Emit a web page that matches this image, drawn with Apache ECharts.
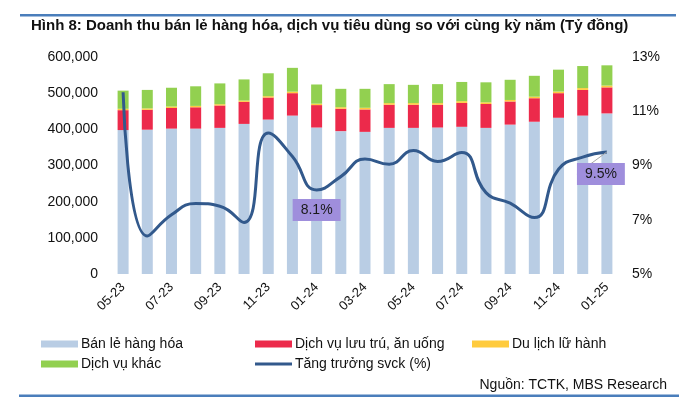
<!DOCTYPE html>
<html>
<head>
<meta charset="utf-8">
<script src="https://cdn.jsdelivr.net/npm/echarts@6/dist/echarts.min.js"></script>
<style>
html,body{margin:0;padding:0;background:#fff;}
#c{width:700px;height:412px;}
</style>
</head>
<body>
<div id="c"></div>
<script>
var categories = ['05-23','06-23','07-23','08-23','09-23','10-23','11-23','12-23','01-24','02-24','03-24','04-24','05-24','06-24','07-24','08-24','09-24','10-24','11-24','12-24','01-25'];
var banLe = [398000,399000,402000,402000,404000,415000,427000,438000,405000,395000,393000,404000,404000,405000,407000,404000,413000,421000,432000,438000,444000];
var luuTru = [55000,55000,57000,59000,62000,61000,61000,62000,62000,62000,62000,64000,64000,63000,66000,66000,64000,65000,68000,71000,72000];
var duLich = [3800,3900,4100,3800,3500,3600,3700,4200,4000,4200,4600,4500,4600,4600,4900,4700,4200,4300,4500,5100,5000];
var khac = [50200,51100,51900,54200,57500,58400,63300,65800,53000,50800,52400,52500,50400,52400,53100,55300,55800,57700,60500,60900,56000];
var tangTruong = [11.7,6.4,7.18,7.6,7.5,6.9,10.2,9.33,8.1,8.59,9.24,9.05,9.55,9.15,9.48,8.0,7.61,7.08,8.86,9.31,9.5];
var leftTicks = [0,100000,200000,300000,400000,500000,600000];
var rightTicks = [5,7,9,11,13];

var FONT = "'Liberation Sans', Arial, sans-serif";
var names = ['Bán lẻ hàng hóa','Dịch vụ lưu trú, ăn uống','Du lịch lữ hành','Dịch vụ khác','Tăng trưởng svck (%)'];
var colors = ['#b9cde4','#ec2a4b','#ffcb3d','#92d050','#32598c'];
var labelBox = {fontSize:14, fontFamily:FONT, color:'#1a1a1a', backgroundColor:'#9f8edc', padding:[4,8]};

var lineData = tangTruong.map(function(v,i){
  if (i === 8) {
    return {value:v, label:Object.assign({show:true, position:'bottom', distance:9, formatter:'8.1%'}, labelBox)};
  }
  if (i === tangTruong.length-1) {
    return {value:v, label:Object.assign({show:true, position:'bottom', distance:11, formatter:'9.5%'}, labelBox),
            labelLine:{show:true, lineStyle:{color:'#a6a6a6', width:1}}};
  }
  return v;
});

function legendAt(name, left, top, h) {
  return {show:true, data:[{name:name, icon:'rect'}], left:left, top:top, itemWidth:37, itemHeight:h||7,
    padding:0, itemGap:0, selectedMode:false,
    textStyle:{fontSize:14, fontFamily:FONT, color:'#111', lineHeight:14, padding:[0,0,0,-2]}};
}

var chart = echarts.init(document.getElementById('c'));
chart.setOption({
  animation:false,
  backgroundColor:'#fff',
  title:{text:'Hình 8: Doanh thu bán lẻ hàng hóa, dịch vụ tiêu dùng so với cùng kỳ năm (Tỷ đồng)', left:31, top:18, padding:0,
    textStyle:{fontSize:15, fontWeight:'bold', fontFamily:FONT, color:'#111'}},
  grid:{left:111, right:81, top:57, bottom:138, containLabel:false},
  legend:[
    legendAt(names[0], 41, 337),
    legendAt(names[1], 255, 337),
    legendAt(names[2], 472, 337),
    legendAt(names[3], 41, 357),
    legendAt(names[4], 255, 357, 3)
  ],
  xAxis:{type:'category', data:categories, boundaryGap:true,
    axisLine:{show:false}, axisTick:{show:false}, splitLine:{show:false},
    axisLabel:{interval:1, rotate:45, margin:11, fontSize:13, fontFamily:FONT, color:'#111'}},
  yAxis:[
    {type:'value', min:leftTicks[0], max:leftTicks[leftTicks.length-1], interval:leftTicks[1]-leftTicks[0],
      axisLine:{show:false}, axisTick:{show:false}, splitLine:{show:false},
      axisLabel:{margin:13, fontSize:14, fontFamily:FONT, color:'#111',
        formatter:function(v){return v.toLocaleString('en-US');}}},
    {type:'value', min:rightTicks[0], max:rightTicks[rightTicks.length-1], interval:1,
      axisLine:{show:false}, axisTick:{show:false}, splitLine:{show:false},
      axisLabel:{margin:13, fontSize:14, fontFamily:FONT, color:'#111',
        formatter:function(v){return rightTicks.indexOf(v) >= 0 ? v + '%' : '';}}}
  ],
  series:[
    {name:names[0], type:'bar', stack:'a', data:banLe, barWidth:11, itemStyle:{color:colors[0]}, emphasis:{disabled:true}},
    {name:names[1], type:'bar', stack:'a', data:luuTru, barWidth:11, itemStyle:{color:colors[1]}, emphasis:{disabled:true}},
    {name:names[2], type:'bar', stack:'a', data:duLich, barWidth:11, itemStyle:{color:colors[2]}, emphasis:{disabled:true}},
    {name:names[3], type:'bar', stack:'a', data:khac, barWidth:11, itemStyle:{color:colors[3]}, emphasis:{disabled:true}},
    {name:names[4], type:'line', yAxisIndex:1, data:lineData, smooth:0.5, symbol:'circle', symbolSize:0, showSymbol:true,
      z:5, lineStyle:{color:colors[4], width:3}, itemStyle:{color:colors[4]}, emphasis:{disabled:true},
      labelLayout:function(p){ if (p.dataIndex === tangTruong.length-1) { return {dx:-6, dy:0}; } return {}; }}
  ],
  graphic:[
    {type:'rect', shape:{x:20, y:14, width:656, height:2.5}, style:{fill:'#4a7ebb'}, silent:true},
    {type:'rect', shape:{x:19, y:394.5, width:660, height:2.5}, style:{fill:'#4a7ebb'}, silent:true},
    {type:'text', style:{text:'Nguồn: TCTK, MBS Research', x:667, y:385, align:'right', verticalAlign:'middle',
      fontSize:14, fontFamily:FONT, fill:'#111'}, silent:true}
  ]
});
</script>
</body>
</html>
